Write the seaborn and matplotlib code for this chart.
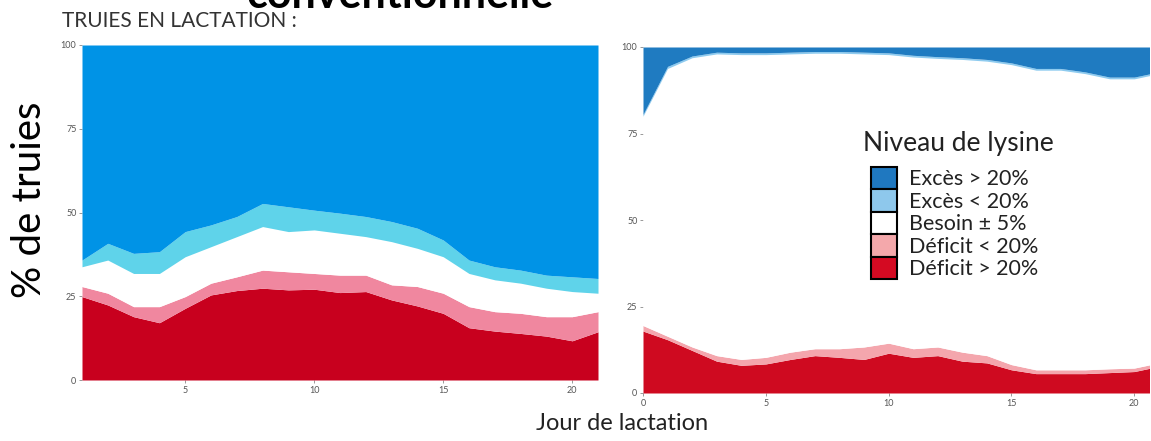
import numpy as np
import matplotlib
matplotlib.use("Agg")
import matplotlib.pyplot as plt
import seaborn as sns
from matplotlib.patches import Patch, Rectangle

sns.set_theme(style="white")
plt.rcParams['font.family'] = ['Lato', 'DejaVu Sans']

# Left panel: cumulative upper boundaries (% of sows), days 1..21
days_left = list(range(1, 22))
left_def_hi = [24.9, 22.4, 18.9, 17.1, 21.4, 25.4, 26.7, 27.4, 26.9, 27.1, 26.1,
               26.4, 23.9, 22.1, 19.9, 15.6, 14.6, 13.9, 13.1, 11.7, 14.4]
left_def_lo = [27.9, 25.9, 21.9, 21.9, 24.9, 28.9, 30.8, 32.8, 32.3, 31.8, 31.3,
               31.3, 28.4, 27.9, 25.9, 21.9, 20.4, 19.9, 18.9, 18.9, 20.4]
left_besoin = [33.8, 35.8, 31.8, 31.8, 36.8, 39.8, 42.8, 45.8, 44.3, 44.8, 43.8,
               42.8, 41.3, 39.3, 36.8, 31.8, 29.9, 28.9, 27.4, 26.4, 25.9]
left_exc_lo = [35.8, 40.8, 37.8, 38.3, 44.3, 46.3, 48.8, 52.7, 51.7, 50.7, 49.8,
               48.8, 47.3, 45.3, 41.8, 35.8, 33.8, 32.8, 31.3, 30.8, 30.3]

# Right panel: cumulative upper boundaries, days 0..21
days_right = list(range(0, 22))
right_def_hi = [17.9, 15.4, 12.3, 9.2, 8.0, 8.4, 9.7, 10.8, 10.3, 9.7, 11.5,
                10.3, 10.8, 9.2, 8.7, 6.7, 5.6, 5.6, 5.6, 5.9, 6.2, 7.7]
right_def_lo = [19.5, 16.4, 13.3, 10.8, 9.7, 10.3, 11.8, 12.8, 12.8, 13.3, 14.4,
                12.8, 13.3, 11.8, 10.8, 8.2, 6.7, 6.7, 6.7, 7.0, 7.2, 8.7]
right_besoin = [80.0, 93.8, 96.9, 98.0, 97.8, 97.8, 98.0, 98.2, 98.2, 98.0, 97.8,
                97.1, 96.7, 96.4, 95.9, 94.9, 93.3, 93.3, 92.3, 90.8, 90.8, 92.3]
right_exc_lo = [80.5, 94.4, 97.4, 98.5, 98.3, 98.3, 98.5, 98.7, 98.7, 98.5, 98.3,
                97.6, 97.2, 96.9, 96.4, 95.4, 93.8, 93.8, 92.8, 91.3, 91.3, 92.8]

labels = ["Excès > 20%", "Excès < 20%", "Besoin ± 5%", "Déficit < 20%", "Déficit > 20%"]
left_colors = ["#c8001e", "#f0879f", "#ffffff", "#5fd3ea", "#0093e6"]
right_colors = ["#cf0a20", "#f4a6ad", "#ffffff", "#8ecbef", "#1f7bc1"]
legend_colors = ["#1f78c0", "#8ec8ec", "#ffffff", "#f4a8ab", "#d40a22"]


def layers(def_hi, def_lo, besoin, exc_lo):
    tops = [np.array(def_hi), np.array(def_lo), np.array(besoin), np.array(exc_lo),
            np.full(len(def_hi), 100.0)]
    bottoms = [np.zeros(len(def_hi))] + tops[:-1]
    return [t - b for t, b in zip(tops, bottoms)]


fig = plt.figure(figsize=(11.51, 4.41), dpi=100)
W, H = 1151, 441
ax1 = fig.add_axes([82 / W, 1 - 380 / H, (598 - 82) / W, (380 - 45) / H])
ax2 = fig.add_axes([643 / W, 1 - 393 / H, (1149 - 643) / W, (393 - 47) / H])

ax1.stackplot(days_left, layers(left_def_hi, left_def_lo, left_besoin, left_exc_lo),
              colors=left_colors, linewidth=0)
ax1.set_xlim(1, 21)
ax1.set_xticks([5, 10, 15, 20])

ax2.stackplot(days_right, layers(right_def_hi, right_def_lo, right_besoin, right_exc_lo),
              colors=right_colors, linewidth=0)
ax2.set_xlim(0, 20.6)
ax2.set_xticks([0, 5, 10, 15, 20])

for ax in (ax1, ax2):
    ax.set_ylim(0, 100)
    ax.set_yticks([0, 25, 50, 75, 100])
    ax.tick_params(axis="both", labelsize=6.5, labelcolor="#555555", color="#888888",
                   length=2, width=0.6, direction="out", left=True, bottom=True, pad=2)
    for s in ax.spines.values():
        s.set_visible(False)

# white box behind the legend (pasted over the plot in the original)
ax2.add_patch(Rectangle((0.383, 0.234), 0.540, 0.607, transform=ax2.transAxes,
                        facecolor="white", edgecolor="none", zorder=5))
ax2.text(0.435, 0.7225, "Niveau de lysine", transform=ax2.transAxes, fontsize=19,
         color="#222222", va="center", ha="left", zorder=7)

handles = [Patch(facecolor=c, edgecolor="black", linewidth=1.5) for c in legend_colors]
leg = ax2.legend(handles, labels, loc="upper left", bbox_to_anchor=(0.4506, 0.653),
                 frameon=False, fontsize=15.5, handlelength=1.2, handleheight=1.22,
                 labelspacing=0.0, handletextpad=0.55, borderpad=0.0, borderaxespad=0.0)
for t in leg.get_texts():
    t.set_color("#222222")
leg.set_zorder(6)

fig.text(62 / W, 1 - 21 / H, "TRUIES EN LACTATION :", fontsize=15, color="#333333",
         va="center", ha="left")
# heading of the slide, cut by the top edge in the original
fig.text(400 / W, 1 - 8 / H, "conventionnelle", fontsize=31, fontweight="bold",
         color="black", va="baseline", ha="center")
fig.text(30 / W, 1 - 200 / H, "% de truies", fontsize=29, rotation=90,
         va="center", ha="center", color="black")
fig.text(622 / W, 1 - 423 / H, "Jour de lactation", fontsize=17, va="center",
         ha="center", color="#222222")

fig.savefig("out.png", dpi=100)
